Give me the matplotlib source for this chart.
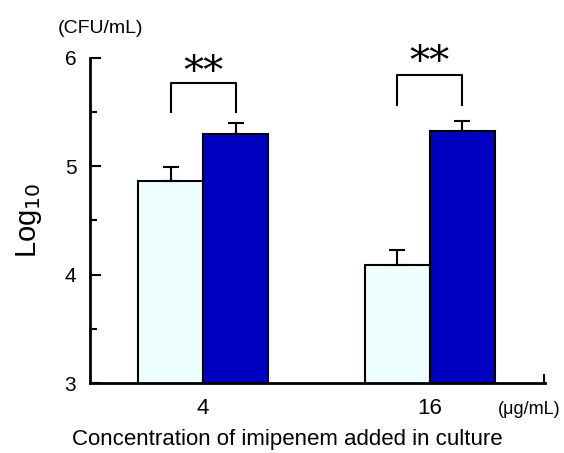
import numpy as np
import matplotlib.pyplot as plt
from matplotlib.ticker import MultipleLocator

plt.rcParams['font.family'] = ['Liberation Sans', 'DejaVu Sans']

# data
concs = ['4', '16']
control = [4.86, 4.09]
control_err = [0.13, 0.14]
treated = [5.30, 5.33]
treated_err = [0.10, 0.09]

light = '#EEFFFF'
dark = '#0000C0'

fig = plt.figure(figsize=(5.64, 4.53), dpi=100)
ax = fig.add_axes([0.16, 0.1545, 0.806, 0.7175])

x = np.arange(len(concs))
w = 0.286
ax.bar(x - w/2, control, w, bottom=0, color=light, edgecolor='black', linewidth=1.5, zorder=2)
ax.bar(x + w/2, treated, w, bottom=0, color=dark, edgecolor='black', linewidth=1.5, zorder=2)
ax.errorbar(x - w/2, control, yerr=[[0]*2, control_err], fmt='none', ecolor='black',
            elinewidth=1.5, capsize=5.5, capthick=1.5, zorder=3)
ax.errorbar(x + w/2, treated, yerr=[[0]*2, treated_err], fmt='none', ecolor='black',
            elinewidth=1.5, capsize=5.5, capthick=1.5, zorder=3)

# significance brackets: bottom, top, star baseline
brackets = [(5.50, 5.77, 5.77), (5.57, 5.84, 5.86)]
for i, (lo, hi, st) in enumerate(brackets):
    ax.plot([i - w/2, i - w/2, i + w/2, i + w/2], [lo, hi, hi, lo], color='black', lw=1.5,
            clip_on=False)
    ax.text(i, st, '**', ha='center', va='baseline', fontsize=29, family='DejaVu Serif',
            clip_on=False)

ax.set_xlim(-0.498, 1.507)
ax.set_ylim(3, 6)
ax.yaxis.set_major_locator(MultipleLocator(1))
ax.yaxis.set_minor_locator(MultipleLocator(0.5))
ax.tick_params(axis='y', which='major', direction='in', length=8, width=1.5, labelsize=15, pad=10)
ax.tick_params(axis='y', which='minor', direction='in', length=5, width=1.5)
ax.set_xticks(x)
ax.set_xticklabels(concs, fontsize=16)
ax.tick_params(axis='x', length=0, pad=11)

for s in ['top', 'right']:
    ax.spines[s].set_visible(False)
for s in ['left', 'bottom']:
    ax.spines[s].set_linewidth(2)

# small upward tick at right end of x axis
ax.plot([1.505, 1.505], [3, 3.07], color='black', lw=1.5, clip_on=False)

ax.set_xlabel('Concentration of imipenem added in culture', fontsize=16)
ax.xaxis.set_label_coords(0.433, -0.143)
ax.set_ylabel('Log$_{10}$', fontsize=21, labelpad=15)
fig.text(0.178, 0.937, '(CFU/mL)', ha='center', va='center', fontsize=14)
fig.text(0.938, 0.097, '(\u03bcg/mL)', ha='center', va='center', fontsize=13)

fig.savefig('out.png', dpi=100)
